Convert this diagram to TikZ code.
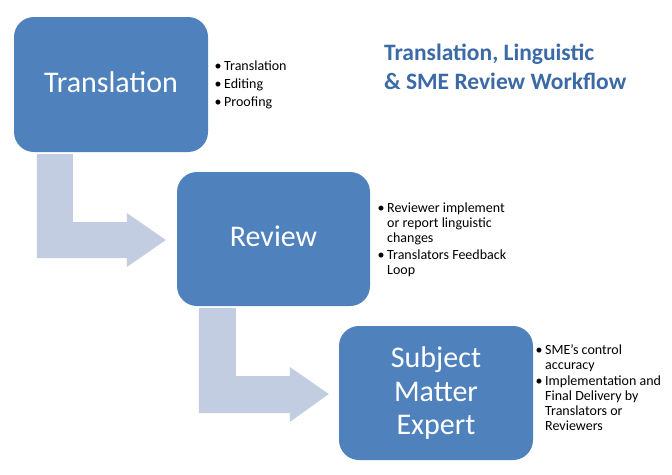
\documentclass[tikz,border=0pt]{standalone}
\usepackage{fontspec}
\setmainfont{Carlito}
\usetikzlibrary{calc}
\definecolor{boxblue}{RGB}{79,129,189}
\definecolor{arrowfill}{RGB}{195,205,226}
\definecolor{titleblue}{RGB}{59,106,166}
\newcommand\mybullet{\leavevmode\llap{•\hspace{2.5pt}}}
\begin{document}
\begin{tikzpicture}[x=1pt,y=-1pt,
  stage/.style={rectangle, rounded corners=20pt, fill=boxblue, text=white,
    inner sep=0pt, minimum width=194pt, minimum height=135pt,
    font=\fontsize{30}{33.5}\selectfont, align=center},
  oneline/.style={text height=21pt, text depth=6pt},
  bullets/.style={anchor=base west, inner sep=0pt, text=black},
  bentarrow/.style={fill=arrowfill, draw=none}]
\useasboundingbox (0,0) rectangle (672,474);
\fill[white] (0,0) rectangle (672,474);

\node[stage, oneline] (t1) at (111,84.5) {Translation};
\node[stage, oneline, minimum width=193pt, minimum height=134pt] (t2) at (273.5,239) {Review};
\node[stage, minimum height=134pt] (t3) at (436,393) {Subject\\Matter\\Expert};

% bent arrows
\coordinate (a1) at ($(t1.south west)+(23,2)$);
\coordinate (tip1) at ($(t2.west)+(-11,1)$);
\fill[bentarrow] (a1) -- ++(36,0) |- ($(tip1)+(-39,-18)$) -- ++(0,-9) -- (tip1)
  -- ($(tip1)+(-39,27)$) -- ++(0,-9) -| (a1) -- cycle;
\coordinate (a2) at ($(t2.south west)+(22,2)$);
\coordinate (tip2) at ($(t3.west)+(-10,1)$);
\fill[bentarrow] (a2) -- ++(37,0) |- ($(tip2)+(-39,-18)$) -- ++(0,-9) -- (tip2)
  -- ($(tip2)+(-39,28)$) -- ++(0,-9) -| (a2) -- cycle;

% bullet lists
\node[bullets] (b1) at (224,70) {\parbox[t]{120pt}{\fontsize{14}{15}\selectfont\parskip=3pt
  \mybullet Translation\par
  \mybullet Editing\par
  \mybullet Proofing}};
\node[bullets] (b2) at (387,212) {\parbox[t]{160pt}{\fontsize{14}{15}\selectfont\parskip=2pt
  \mybullet Reviewer implement\\or report linguistic\\changes\par
  \mybullet Translators Feedback\\Loop}};
\node[bullets] (b3) at (545,354) {\parbox[t]{130pt}{\fontsize{14}{15}\selectfont\parskip=1pt
  \mybullet SME’s control\\accuracy\par
  \mybullet Implementation and\\Final Delivery by\\Translators or\\Reviewers}};

% title
\node[anchor=base west, inner sep=0pt, text=titleblue] (title) at (384,60)
  {\parbox[t]{285pt}{\fontsize{23.5}{29}\selectfont\bfseries Translation, Linguistic\\\& SME Review Workflow}};
\end{tikzpicture}
\end{document}
